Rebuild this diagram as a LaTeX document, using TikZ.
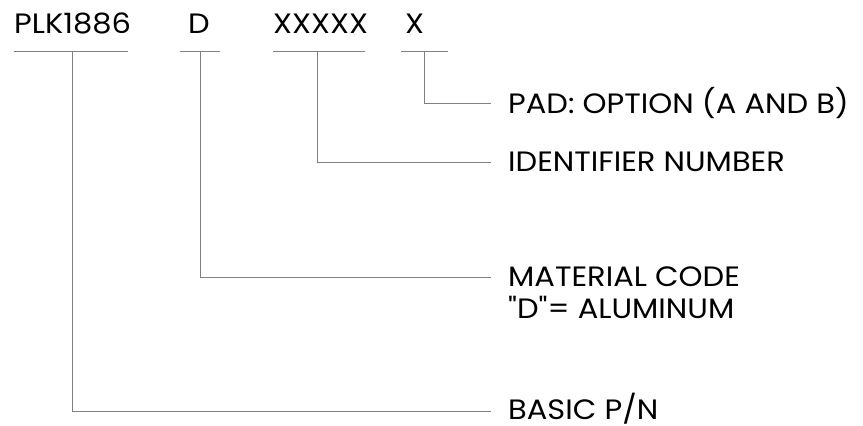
\documentclass[tikz,border=0pt]{standalone}
\usepackage{fontspec}
\setmainfont{Poppins}[Ligatures=TeXOff, FakeStretch=1.09]
\definecolor{linegray}{RGB}{128,128,128}
\begin{document}
\begin{tikzpicture}[x=1pt,y=-1pt,
  lbl/.style={inner sep=0pt, font=\fontsize{28}{32}\selectfont, anchor=base west, text=black},
  lead/.style={draw=linegray, line width=1pt}]
\useasboundingbox (0,0) rectangle (863,426);
% top code parts
\node[lbl] (plk) at (14,33) {PLK1886};
\node[lbl] (d) at (188,33) {D};
\node[lbl] (xs) at (273,33) {XXXXX};
\node[lbl] (x) at (405,33) {X};
% underlines
\coordinate (u1a) at (14,51);  \coordinate (u1b) at (128,51);
\coordinate (u2a) at (180,51); \coordinate (u2b) at (220,51);
\coordinate (u3a) at (273,51); \coordinate (u3b) at (365,51);
\coordinate (u4a) at (401,51); \coordinate (u4b) at (448,51);
\draw[lead] (u1a) -- (u1b);
\draw[lead] (u2a) -- (u2b);
\draw[lead] (u3a) -- (u3b);
\draw[lead] (u4a) -- (u4b);
% joints
\coordinate (j1) at (72,51);
\coordinate (j2) at (200,51);
\coordinate (j3) at (317,51);
\coordinate (j4) at (424,51);
% labels
\node[lbl] (pad) at (508,113) {PAD: OPTION (A AND B)};
\node[lbl] (idn) at (508,171) {IDENTIFIER NUMBER};
\node[lbl] (mat) at (508,286) {MATERIAL CODE};
\node[lbl] (alu) at (508,318) {"D"= ALUMINUM};
\node[lbl] (bas) at (508,419) {BASIC P/N};
% line ends
\coordinate (e4) at ([xshift=-17pt,yshift=10pt]pad.base west);
\coordinate (e3) at ([xshift=-17pt,yshift=9pt]idn.base west);
\coordinate (e2) at ([xshift=-17pt,yshift=9pt]mat.base west);
\coordinate (e1) at ([xshift=-17pt,yshift=8pt]bas.base west);
\draw[lead] (j4) |- (e4);
\draw[lead] (j3) |- (e3);
\draw[lead] (j2) |- (e2);
\draw[lead] (j1) |- (e1);
\end{tikzpicture}
\end{document}
